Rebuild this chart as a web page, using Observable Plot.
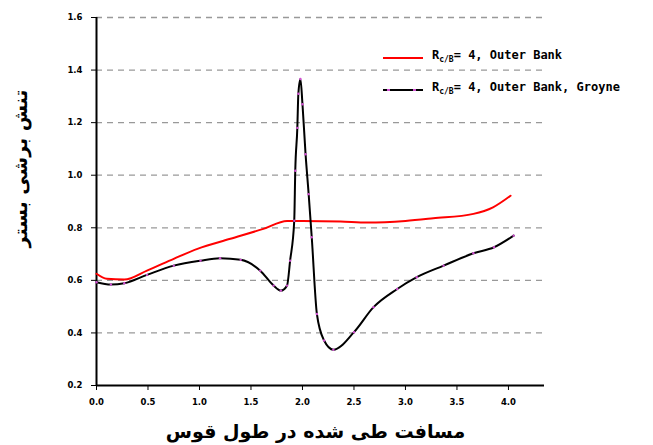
<!DOCTYPE html>
<html>
<head>
<meta charset="utf-8">
<script src="https://cdn.jsdelivr.net/npm/d3@7"></script>
<script src="https://cdn.jsdelivr.net/npm/@observablehq/plot@0.6"></script>
<style>
  body { margin: 0; background: #fff; }
  #wrap { position: relative; width: 653px; height: 445px; }
  .leg { position: absolute; font-family: "DejaVu Sans Mono", monospace; font-weight: bold; font-size: 12px; color: #000; white-space: nowrap; }
  .leg sub { font-size: 8px; }
</style>
</head>
<body>
<div id="wrap"></div>
<script>
// Data
const xTicks = [0, 0.5, 1.0, 1.5, 2.0, 2.5, 3.0, 3.5, 4.0];
const yTicks = [0.2, 0.4, 0.6, 0.8, 1.0, 1.2, 1.4, 1.6];
const seriesNames = ["Outer Bank", "Outer Bank, Groyne"];

const redX = [0, 0.10, 0.27, 0.49, 0.75, 0.98, 1.30, 1.62, 1.85, 2.00, 2.37, 2.63, 3.00, 3.27, 3.66, 3.85, 4.02];
const redY = [0.625, 0.606, 0.603, 0.637, 0.682, 0.720, 0.758, 0.796, 0.826, 0.826, 0.824, 0.820, 0.826, 0.836, 0.853, 0.878, 0.922];

const blackX = [0, 0.14, 0.27, 0.49, 0.75, 1.01, 1.20, 1.40, 1.59, 1.72, 1.79, 1.85, 1.88, 1.92, 1.93, 1.95, 1.96, 1.98, 2.00, 2.03, 2.06, 2.09, 2.14, 2.21, 2.30, 2.50, 2.69, 2.92, 3.11, 3.37, 3.66, 3.86, 4.05];
const blackY = [0.593, 0.584, 0.589, 0.621, 0.656, 0.675, 0.684, 0.678, 0.637, 0.580, 0.561, 0.580, 0.675, 0.827, 1.017, 1.180, 1.310, 1.366, 1.270, 1.080, 0.928, 0.764, 0.472, 0.371, 0.336, 0.403, 0.498, 0.567, 0.612, 0.656, 0.703, 0.726, 0.770];

const yLabel = "تنش برشی بستر";
const xLabel = "مسافت طی شده در طول قوس";

const red = redX.map((x, i) => ({x, y: redY[i]}));
const black = blackX.map((x, i) => ({x, y: blackY[i]}));

const chart = Plot.plot({
  width: 653,
  height: 445,
  marginLeft: 96,
  marginRight: 109,
  marginTop: 17,
  marginBottom: 60,
  style: {fontFamily: "DejaVu Sans", background: "#fff", overflow: "visible"},
  x: {domain: [0, 4.35]},
  y: {domain: [0.2, 1.6]},
  marks: [
    Plot.gridY(yTicks.slice(1), {stroke: "#999", strokeOpacity: 1, strokeWidth: 1.3, strokeDasharray: "6,5"}),
    Plot.axisY({ticks: yTicks, tickFormat: d3.format(".1f"), tickSize: 5, tickPadding: 9, tickStrokeWidth: 2,
                fontSize: 8.5, fontWeight: "bold", label: null}),
    Plot.axisX({ticks: xTicks, tickFormat: d3.format(".1f"), tickSize: 5, tickPadding: 8, tickStrokeWidth: 2,
                fontSize: 8.5, fontWeight: "bold", label: null}),
    Plot.ruleX([0], {stroke: "#000", strokeWidth: 2}),
    Plot.ruleY([0.2], {stroke: "#000", strokeWidth: 2}),
    Plot.line(red, {x: "x", y: "y", stroke: "#ff0000", strokeWidth: 2, curve: "monotone-x"}),
    Plot.line(black, {x: "x", y: "y", stroke: "#000", strokeWidth: 2, curve: "monotone-x"}),
    Plot.dot(black, {x: "x", y: "y", r: 1.2, fill: "#d050d0", stroke: null}),
    Plot.text([yLabel], {frameAnchor: "left", textAnchor: "middle", dx: -76, dy: -33, rotate: -90, fontSize: 19, fontWeight: "bold", fill: "#000"}),
    Plot.text([xLabel], {frameAnchor: "bottom", dy: 52, dx: -5, fontSize: 19, fontWeight: "bold", fill: "#000"})
  ]
});

const wrap = document.getElementById("wrap");
wrap.appendChild(chart);

// Legend
const legend = [
  {name: seriesNames[0], color: "#ff0000", top: 52, dots: false},
  {name: seriesNames[1], color: "#000", top: 84, dots: true}
];
legend.forEach(l => {
  const sw = document.createElementNS("http://www.w3.org/2000/svg", "svg");
  sw.setAttribute("width", 42); sw.setAttribute("height", 12);
  sw.style.position = "absolute"; sw.style.left = "383px"; sw.style.top = l.top + "px";
  sw.innerHTML = `<line x1="0" x2="40" y1="6" y2="6" stroke="${l.color}" stroke-width="2"/>` +
    (l.dots ? `<rect x="4" y="5" width="3" height="2" fill="#d050d0"/><rect x="30" y="5" width="3" height="2" fill="#d050d0"/>` : "");
  wrap.appendChild(sw);
  const t = document.createElement("div");
  t.className = "leg";
  t.style.left = "432px"; t.style.top = (l.top - 4) + "px";
  t.innerHTML = `R<sub>c/B</sub>= 4, ${l.name}`;
  wrap.appendChild(t);
});
</script>
</body>
</html>
